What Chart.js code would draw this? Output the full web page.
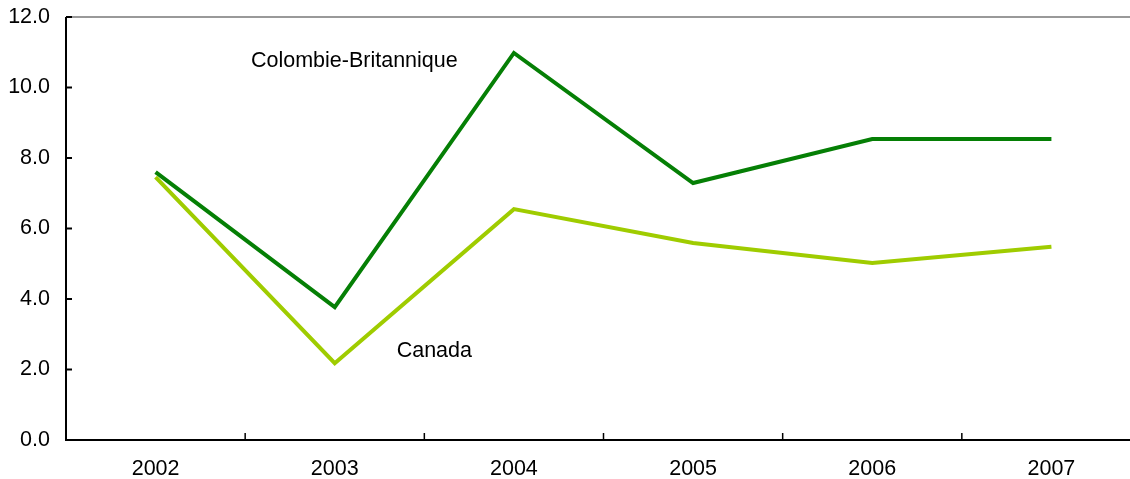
<!DOCTYPE html>
<html><head><meta charset="utf-8">
<script src="https://cdn.jsdelivr.net/npm/chart.js@4/dist/chart.umd.min.js"></script>
<style>html,body{margin:0;padding:0;background:#fff;overflow:hidden;width:1130px;height:479px}
#wrap{position:absolute;left:0;top:0;width:1141px;height:479px}</style>
</head><body><div id="wrap"><canvas id="c"></canvas></div>
<script>
const years = ['2002','2003','2004','2005','2006','2007'];
const bcValues = [7.6, 3.77, 10.98, 7.29, 8.54, 8.54];
const canadaValues = [7.46, 2.18, 6.55, 5.59, 5.02, 5.48];
const yTicks = [0, 2, 4, 6, 8, 10, 12];
const seriesNames = ['Colombie-Britannique', 'Canada'];
const FONT = '"Liberation Sans", Arial, sans-serif';
const FS = 21.5;

const axesPlugin = {
  id: 'axesPlugin',
  afterDraw(chart) {
    const ctx = chart.ctx, a = chart.chartArea;
    const x = chart.scales.x, y = chart.scales.y;
    ctx.save();
    ctx.strokeStyle = '#777'; ctx.lineWidth = 1.5;
    ctx.beginPath(); ctx.moveTo(a.left, a.top); ctx.lineTo(a.right, a.top); ctx.stroke();
    ctx.strokeStyle = '#000'; ctx.lineWidth = 2;
    ctx.beginPath(); ctx.moveTo(a.left, a.top); ctx.lineTo(a.left, a.bottom); ctx.lineTo(a.right, a.bottom); ctx.stroke();
    ctx.lineWidth = 2;
    yTicks.forEach(v => { const py = y.getPixelForValue(v); ctx.beginPath(); ctx.moveTo(a.left, py); ctx.lineTo(a.left + 6, py); ctx.stroke(); });
    ctx.lineWidth = 1.5;
    for (let i = 0; i < years.length - 1; i++) {
      const px = (x.getPixelForValue(i) + x.getPixelForValue(i + 1)) / 2;
      ctx.beginPath(); ctx.moveTo(px, a.bottom); ctx.lineTo(px, a.bottom - 7); ctx.stroke();
    }
    ctx.fillStyle = '#000'; ctx.font = FS + 'px ' + FONT; ctx.textAlign = 'center'; ctx.textBaseline = 'middle';
    const mid = (x.getPixelForValue(1) + x.getPixelForValue(2)) / 2;
    ctx.fillText(seriesNames[0], mid - 70, y.getPixelForValue(10.75));
    ctx.fillText(seriesNames[1], mid + 10, y.getPixelForValue(2.53));
    ctx.restore();
  }
};

new Chart(document.getElementById('c'), {
  type: 'line',
  data: {
    labels: years,
    datasets: [
      { label: seriesNames[1], data: canadaValues, borderColor: '#9fcc00', borderWidth: 4, pointRadius: 0, tension: 0, fill: false },
      { label: seriesNames[0], data: bcValues, borderColor: '#057f05', borderWidth: 4, pointRadius: 0, tension: 0, fill: false }
    ]
  },
  options: {
    responsive: true, maintainAspectRatio: false, animation: false,
    devicePixelRatio: 1,
    layout: { padding: { top: 17, right: 0, left: 0, bottom: 0 } },
    plugins: { legend: { display: false }, tooltip: { enabled: false } },
    scales: {
      x: {
        offset: true,
        grid: { display: false, drawTicks: false }, border: { display: false },
        ticks: { color: '#000', font: { family: FONT, size: FS }, padding: 16, maxRotation: 0 },
        afterFit(s) { s.height = 39; s.paddingLeft = 0; s.paddingRight = 0; }
      },
      y: {
        min: 0, max: 12,
        afterBuildTicks(s) { s.ticks = yTicks.map(v => ({ value: v })); },
        grid: { display: false, drawTicks: false }, border: { display: false },
        ticks: { color: '#000', font: { family: FONT, size: FS }, padding: 16, callback: v => v.toFixed(1) },
        afterFit(s) { s.width = 66; s.paddingTop = 0; s.paddingBottom = 0; }
      }
    }
  },
  plugins: [axesPlugin]
});
</script></body></html>
